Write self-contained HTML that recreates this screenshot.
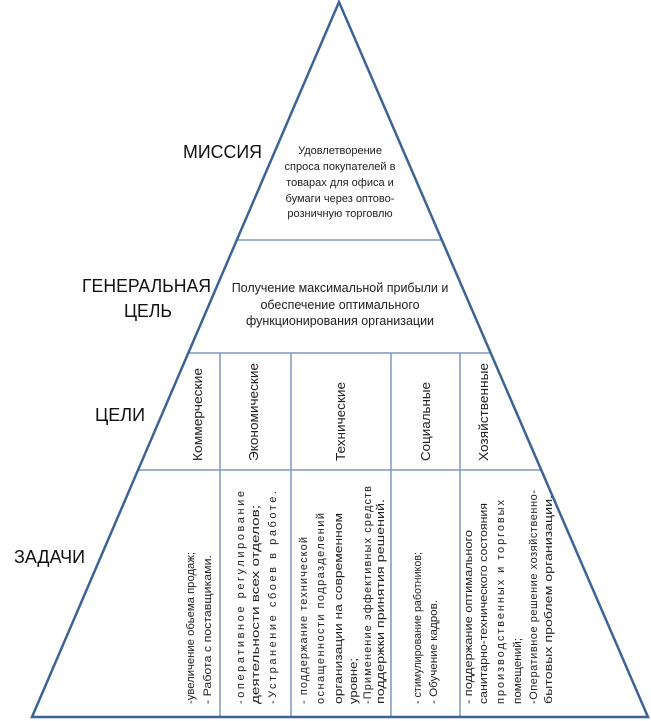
<!DOCTYPE html>
<html><head><meta charset="utf-8"><style>
html,body{margin:0;padding:0;background:#fff;}
svg{display:block;}
text{font-family:"Liberation Sans",sans-serif;fill:#222;}
.big{font-size:18px;fill:#111;}
.m{font-size:11px;text-anchor:middle;}
.g{font-size:12.5px;text-anchor:middle;}
.h{font-size:12.5px;}
.t{font-size:11px;}
</style></head><body>
<svg width="651" height="721" viewBox="0 0 651 721">
<g stroke="#7d98c2" stroke-width="1.5">
<line x1="238" y1="240" x2="441" y2="240"/>
<line x1="189" y1="353" x2="490" y2="353"/>
<line x1="139" y1="470" x2="541" y2="470"/>
<line x1="220" y1="353" x2="220" y2="716"/>
<line x1="291" y1="353" x2="291" y2="716"/>
<line x1="391" y1="353" x2="391" y2="716"/>
<line x1="460" y1="353" x2="460" y2="716"/>
</g>
<polygon points="339,2 32,717 648,717" fill="none" stroke="#3d6394" stroke-width="2.5"/>

<text class="big" x="183" y="158" textLength="79" lengthAdjust="spacingAndGlyphs">МИССИЯ</text>
<text class="big" x="82" y="292" textLength="129" lengthAdjust="spacingAndGlyphs">ГЕНЕРАЛЬНАЯ</text>
<text class="big" x="124" y="317" textLength="48" lengthAdjust="spacingAndGlyphs">ЦЕЛЬ</text>
<text class="big" x="95" y="421" textLength="50" lengthAdjust="spacingAndGlyphs">ЦЕЛИ</text>
<text class="big" x="14" y="563" textLength="71" lengthAdjust="spacingAndGlyphs">ЗАДАЧИ</text>

<text class="m" x="340" y="154">Удовлетворение</text>
<text class="m" x="340" y="170">спроса покупателей в</text>
<text class="m" x="340" y="186">товарах для офиса и</text>
<text class="m" x="340" y="202">бумаги через оптово-</text>
<text class="m" x="340" y="217">розничную торговлю</text>

<text class="g" x="340" y="292">Получение максимальной прибыли и</text>
<text class="g" x="340" y="309">обеспечение оптимального</text>
<text class="g" x="340" y="325">функционирования организации</text>

<text class="h" transform="translate(202,461) rotate(-90)" textLength="93" lengthAdjust="spacingAndGlyphs">Коммерческие</text>
<text class="h" transform="translate(258,461) rotate(-90)" textLength="98" lengthAdjust="spacingAndGlyphs">Экономические</text>
<text class="h" transform="translate(345,461) rotate(-90)" textLength="79" lengthAdjust="spacingAndGlyphs">Технические</text>
<text class="h" transform="translate(430,461) rotate(-90)" textLength="79" lengthAdjust="spacingAndGlyphs">Социальные</text>
<text class="h" transform="translate(488,461) rotate(-90)" textLength="98" lengthAdjust="spacingAndGlyphs">Хозяйственные</text>

<text class="t" transform="translate(194,704) rotate(-90)" textLength="152" lengthAdjust="spacingAndGlyphs">-увеличение обьема продаж;</text>
<text class="t" transform="translate(211,704) rotate(-90)" textLength="149" lengthAdjust="spacingAndGlyphs">- Работа с поставщиками.</text>

<text class="t" transform="translate(244,704) rotate(-90)" textLength="213" lengthAdjust="spacing">-оперативное   регулирование</text>
<text class="t" transform="translate(259,704) rotate(-90)" textLength="199" lengthAdjust="spacingAndGlyphs">деятельности всех отделов;</text>
<text class="t" transform="translate(276,704) rotate(-90)" textLength="213" lengthAdjust="spacing">-Устранение сбоев в работе.</text>

<text class="t" transform="translate(307,704) rotate(-90)" textLength="167" lengthAdjust="spacing">- поддержание технической</text>
<text class="t" transform="translate(324,704) rotate(-90)" textLength="191" lengthAdjust="spacing">оснащенности подразделений</text>
<text class="t" transform="translate(342,704) rotate(-90)" textLength="191" lengthAdjust="spacingAndGlyphs">организации на современном</text>
<text class="t" transform="translate(357,704) rotate(-90)" textLength="46" lengthAdjust="spacingAndGlyphs">уровне;</text>
<text class="t" transform="translate(371,704) rotate(-90)" textLength="218" lengthAdjust="spacing">-Применение эффективных средств</text>
<text class="t" transform="translate(384,704) rotate(-90)" textLength="205" lengthAdjust="spacingAndGlyphs">поддержки принятия решений.</text>

<text class="t" transform="translate(421,704) rotate(-90)" textLength="152" lengthAdjust="spacingAndGlyphs">- стимулирование работников;</text>
<text class="t" transform="translate(437,704) rotate(-90)" textLength="104" lengthAdjust="spacingAndGlyphs">- Обучение кадров.</text>

<text class="t" transform="translate(472,704) rotate(-90)" textLength="174" lengthAdjust="spacingAndGlyphs">- поддержание оптимального</text>
<text class="t" transform="translate(487,704) rotate(-90)" textLength="201" lengthAdjust="spacingAndGlyphs">санитарно-технического состояния</text>
<text class="t" transform="translate(504,704) rotate(-90)" textLength="204" lengthAdjust="spacing">производственных и торговых</text>
<text class="t" transform="translate(521,704) rotate(-90)" textLength="66" lengthAdjust="spacingAndGlyphs">помещений;</text>
<text class="t" transform="translate(537,704) rotate(-90)" textLength="214" lengthAdjust="spacing">-Оперативное решение хозяйственно-</text>
<text class="t" transform="translate(552,704) rotate(-90)" textLength="209" lengthAdjust="spacingAndGlyphs">бытовых проблем организации.</text>
</svg>
</body></html>
